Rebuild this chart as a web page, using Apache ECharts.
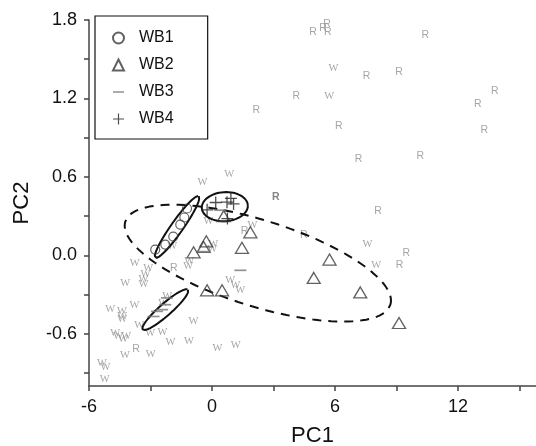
<!DOCTYPE html>
<html>
<head>
<meta charset="utf-8">
<script src="https://cdn.jsdelivr.net/npm/echarts@6/dist/echarts.min.js"></script>
<style>
  html, body { margin: 0; padding: 0; background: #ffffff; }
  #chart { width: 536px; height: 446px; }
</style>
</head>
<body>
<div id="chart"></div>
<script>
// Axis ticks and labels
const xTickValues = [-6, -3, 0, 3, 6, 9, 12, 15];
const xLabelValues = [-6, 0, 6, 12];
const yTickValues = [-0.9, -0.6, -0.3, 0, 0.3, 0.6, 0.9, 1.2, 1.5, 1.8];
const yLabelValues = [-0.6, 0, 0.6, 1.2, 1.8];

// Group scores [PC1, PC2]
const wb1 = [[-1.22, 0.358], [-1.35, 0.289], [-1.55, 0.235], [-1.89, 0.143], [-2.28, 0.082], [-2.77, 0.044]];
const wb2 = [[5.73, -0.033], [4.96, -0.173], [7.23, -0.284], [9.12, -0.518], [1.87, 0.176], [1.46, 0.057],
             [-0.28, 0.107], [-0.41, 0.064], [-0.90, 0.023], [0.57, 0.299], [-0.24, -0.268], [0.49, -0.268]];
const wb3 = [[-2.20, -0.326], [-2.28, -0.378], [-2.44, -0.416], [-2.68, -0.429], [-2.85, -0.468],
             [-0.47, 0.028], [1.38, -0.115], [0.40, 0.345]];
const wb4 = [[0.18, 0.404], [0.73, 0.406], [0.92, 0.435], [1.05, 0.393], [-0.24, 0.348], [0.75, 0.281]];

// Reference samples, plotted as letters
const wSamples = [
  [0.84, 0.619], [-0.47, 0.558], [-0.18, 0.258], [1.97, 0.228], [0.06, 0.082], [0.01, 0.044], [-1.94, 0.067],
  [-3.77, -0.058], [-3.11, -0.098], [-3.25, -0.148], [-1.11, -0.048], [-1.16, -0.087], [-4.23, -0.217],
  [-3.35, -0.186], [-3.35, -0.225], [0.89, -0.194], [1.14, -0.232], [1.38, -0.271], [-4.96, -0.416],
  [-4.39, -0.429], [-3.78, -0.386], [-4.38, -0.468], [-4.38, -0.493], [-3.55, -0.539], [-4.72, -0.593],
  [-4.57, -0.621], [-4.18, -0.616], [-4.33, -0.646], [-3.01, -0.593], [-2.42, -0.589], [-2.03, -0.669],
  [-1.13, -0.654], [-0.91, -0.506], [0.26, -0.710], [1.16, -0.685], [-4.25, -0.761], [-2.99, -0.754],
  [-5.37, -0.823], [-5.20, -0.854], [-5.23, -0.946], [-2.18, -0.317], [-2.38, -0.370],
  [5.92, 1.432], [5.72, 1.217], [7.58, 0.082], [8.01, -0.079]
];
const rSamples = [
  [4.93, 1.705], [5.41, 1.736], [5.61, 1.769], [5.64, 1.705], [10.40, 1.685], [7.53, 1.368], [9.12, 1.403],
  [4.11, 1.215], [2.16, 1.112], [6.18, 0.989], [13.79, 1.255], [12.96, 1.158], [13.28, 0.954],
  [7.15, 0.734], [10.16, 0.759], [8.10, 0.335], [4.47, 0.151], [9.48, 0.018], [9.14, -0.074],
  [-1.86, -0.098], [-3.71, -0.718], [1.59, 0.184]
];
const rSamplesBold = [[3.11, 0.448]];

// Confidence ellipses: [centreX, centreY, axis1X, axis1Y, axis2X, axis2Y]
const ellipseWB1 = [-1.705, 0.216, 1.061, 0.236, 0.239, -0.0265];
const ellipseWB2 = [2.234, -0.060, 6.463, -0.318, 0.627, 0.314];
const ellipseWB3 = [-2.278, -0.416, 1.107, 0.153, 0.194, -0.0345];
const ellipseWB4 = [0.624, 0.372, 1.122, 0.0115, 0.049, -0.111];

function ellipsePath(e) {
  const pts = [];
  const n = 120;
  for (let i = 0; i <= n; i++) {
    const t = (i / n) * Math.PI * 2;
    pts.push([e[0] + Math.cos(t) * e[2] + Math.sin(t) * e[4],
              e[1] + Math.cos(t) * e[3] + Math.sin(t) * e[5]]);
  }
  return pts;
}

const sans = 'Liberation Sans, Arial, sans-serif';
const serif = 'Liberation Serif, Times New Roman, serif';

function letterSeries(name, data, letter, font, color, weight) {
  return {
    name: name, type: 'scatter', data: data, z: 1, silent: true,
    symbol: 'circle', symbolSize: 2,
    itemStyle: { color: 'rgba(0,0,0,0)' },
    label: { show: true, position: 'inside', formatter: letter,
             fontFamily: font, fontSize: 10.5, color: color, fontWeight: weight || 'normal' }
  };
}

function ellipseSeries(e, dashed) {
  return {
    type: 'line', data: ellipsePath(e), showSymbol: false, symbol: 'none', silent: true, z: 3,
    smooth: false,
    lineStyle: { color: '#111', width: 2, type: dashed ? [9, 7] : 'solid' }
  };
}

const dashPath = 'path://M0,0 L10,0 L10,1.4 L0,1.4 Z';
const plusPath = 'path://M5.35,0 H6.65 V5.35 H12 V6.65 H6.65 V12 H5.35 V6.65 H0 V5.35 H5.35 Z';

const axisColor = '#444';

const chart = echarts.init(document.getElementById('chart'), null, { renderer: 'canvas' });
chart.setOption({
  animation: false,
  backgroundColor: '#ffffff',
  grid: { left: 89, right: 0, top: 20, bottom: 60, containLabel: false, outerBoundsMode: 'none' },
  xAxis: {
    type: 'value', min: -6, max: 15.8,
    name: 'PC1', nameLocation: 'middle', nameGap: 39,
    nameTextStyle: { fontFamily: sans, fontSize: 22, color: '#111' },
    axisLine: { show: true, onZero: false, lineStyle: { color: axisColor, width: 1.5 } },
    axisTick: { show: true, inside: false, length: 5, customValues: xTickValues, lineStyle: { color: axisColor, width: 1.5 } },
    axisLabel: { show: true, margin: 12, customValues: xLabelValues, fontFamily: sans, fontSize: 18, color: '#111',
                 formatter: v => String(Math.round(v)) },
    splitLine: { show: false }
  },
  yAxis: {
    type: 'value', min: -1.0, max: 1.8,
    name: 'PC2', nameLocation: 'middle', nameGap: 56,
    nameTextStyle: { fontFamily: sans, fontSize: 22, color: '#111' },
    axisLine: { show: true, onZero: false, lineStyle: { color: axisColor, width: 1.5 } },
    axisTick: { show: true, inside: false, length: 5, customValues: yTickValues, lineStyle: { color: axisColor, width: 1.5 } },
    axisLabel: { show: true, margin: 12, customValues: yLabelValues, fontFamily: sans, fontSize: 18, color: '#111',
                 formatter: v => v.toFixed(1) },
    splitLine: { show: false }
  },
  legend: {
    orient: 'vertical', left: 95, top: 16,
    padding: [14, 34, 12, 17],
    itemWidth: 11, itemHeight: 11, itemGap: 11,
    borderColor: '#111', borderWidth: 1.2,
    textStyle: { fontFamily: sans, fontSize: 16, color: '#111', padding: [0, 0, 0, 10] },
    data: ['WB1', 'WB2', 'WB3', 'WB4']
  },
  series: [
    letterSeries('W', wSamples, 'W', serif, '#8e8e8e'),
    letterSeries('R', rSamples, 'R', sans, '#8e8e8e'),
    letterSeries('Rb', rSamplesBold, 'R', sans, '#666666', 'bold'),
    ellipseSeries(ellipseWB2, true),
    ellipseSeries(ellipseWB1, false),
    ellipseSeries(ellipseWB3, false),
    ellipseSeries(ellipseWB4, false),
    { name: 'WB1', type: 'scatter', data: wb1, z: 4, symbol: 'circle', symbolSize: 9, symbolKeepAspect: true,
      itemStyle: { color: 'rgba(0,0,0,0)', borderColor: '#3a3a3a', borderWidth: 1.2 } },
    { name: 'WB2', type: 'scatter', data: wb2, z: 4, symbol: 'triangle', symbolSize: [13, 11],
      itemStyle: { color: 'rgba(0,0,0,0)', borderColor: '#3a3a3a', borderWidth: 1.3 } },
    { name: 'WB3', type: 'scatter', data: wb3, z: 4, symbol: dashPath, symbolSize: [12, 1.7], symbolKeepAspect: false,
      itemStyle: { color: '#777777' } },
    { name: 'WB4', type: 'scatter', data: wb4, z: 4, symbol: plusPath, symbolSize: 12,
      itemStyle: { color: '#222222' } }
  ]
});
</script>
</body>
</html>
